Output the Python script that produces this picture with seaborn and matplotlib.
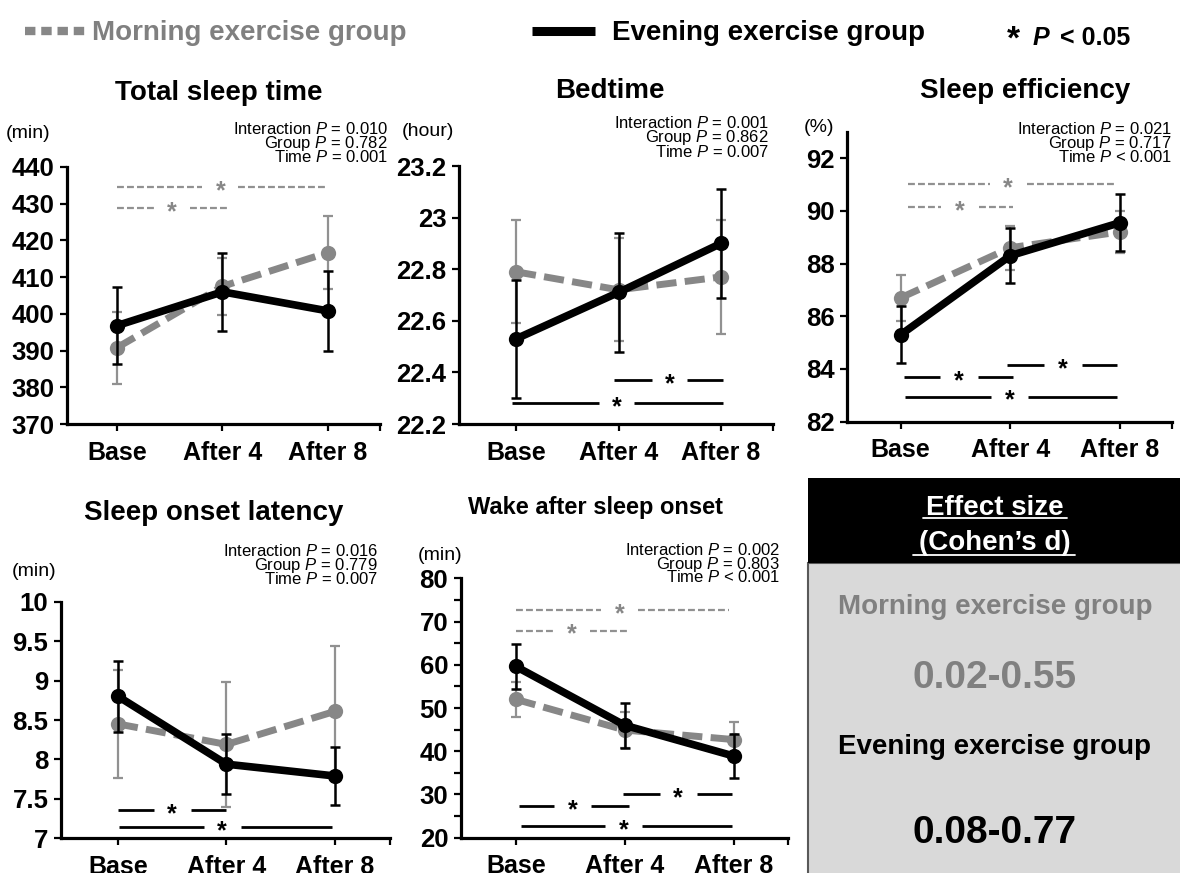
import numpy as np
import matplotlib
matplotlib.use("Agg")
import matplotlib.pyplot as plt
import seaborn as sns
from matplotlib.lines import Line2D
from matplotlib.patches import Rectangle

# ---------------- data ----------------
time_labels = ["Base", "After 4", "After 8"]

tst_morning = [390.8, 407.5, 416.7]
tst_morning_se = [9.8, 7.8, 9.9]
tst_evening = [396.8, 406.0, 400.8]
tst_evening_se = [10.4, 10.7, 10.9]

bed_morning = [22.79, 22.72, 22.77]
bed_morning_se = [0.20, 0.20, 0.22]
bed_evening = [22.53, 22.71, 22.90]
bed_evening_se = [0.23, 0.23, 0.21]

eff_morning = [86.7, 88.6, 89.2]
eff_morning_se = [0.87, 0.83, 0.80]
eff_evening = [85.3, 88.3, 89.55]
eff_evening_se = [1.07, 1.04, 1.09]

sol_morning = [8.45, 8.19, 8.61]
sol_morning_se = [0.69, 0.79, 0.83]
sol_evening = [8.80, 7.94, 7.79]
sol_evening_se = [0.45, 0.38, 0.37]

waso_morning = [52.0, 44.9, 42.7]
waso_morning_se = [4.0, 4.2, 4.1]
waso_evening = [59.6, 46.0, 38.9]
waso_evening_se = [5.1, 5.2, 5.2]

titles = ["Total sleep time", "Bedtime", "Sleep efficiency",
          "Sleep onset latency", "Wake after sleep onset"]
units = ["(min)", "(hour)", "(%)", "(min)", "(min)"]
p_interaction = ["0.010", "0.001", "0.021", "0.016", "0.002"]
p_group = ["0.782", "0.862", "0.717", "0.779", "0.803"]
p_time = ["= 0.001", "= 0.007", "< 0.001", "= 0.007", "< 0.001"]

# significance bars: (y, x_start, x_end, x_star, group)
sig_tst = [(434.5, 0.0, 2.0, 0.98, "m"), (428.8, 0.0, 1.04, 0.52, "m")]
sig_bed = [(22.37, 0.96, 2.02, 1.50, "e"), (22.28, -0.04, 2.02, 0.98, "e")]
sig_eff = [(91.0, 0.07, 1.97, 0.98, "m"), (90.14, 0.07, 1.02, 0.54, "m"),
           (84.15, 0.97, 1.97, 1.48, "e"), (83.7, 0.03, 1.02, 0.53, "e"),
           (82.95, 0.04, 1.97, 0.99, "e")]
sig_sol = [(7.36, 0.0, 1.0, 0.50, "e"), (7.14, 0.01, 1.97, 0.96, "e")]
sig_waso = [(72.7, 0.0, 1.96, 0.95, "m"), (67.9, 0.0, 1.02, 0.51, "m"),
            (30.0, 0.98, 1.99, 1.49, "e"), (27.4, 0.03, 1.04, 0.52, "e"),
            (22.7, 0.05, 1.99, 0.99, "e")]

effect_morning = "0.02-0.55"
effect_evening = "0.08-0.77"

# ---------------- style ----------------
sns.set_style("white")
plt.rcParams["font.family"] = ["Liberation Sans", "DejaVu Sans"]
plt.rcParams["mathtext.fontset"] = "custom"
plt.rcParams["mathtext.rm"] = "Liberation Sans"
plt.rcParams["mathtext.it"] = "Liberation Sans:italic"
plt.rcParams["text.color"] = "black"

GRAY = "#878787"
GRAY_ERR = "#919191"
W, H = 1180, 873

fig = plt.figure(figsize=(W / 100, H / 100), dpi=100)

ov = fig.add_axes([0, 0, 1, 1], zorder=-1)
ov.set_xlim(0, W)
ov.set_ylim(H, 0)
ov.axis("off")

panels = [
    dict(box=(67, 380, 167, 424), xlim=(-0.474, 2.493), ylim=(370, 440),
         yticks=np.arange(370, 441, 10), minor=None,
         m=tst_morning, mse=tst_morning_se, e=tst_evening, ese=tst_evening_se, sig=sig_tst,
         title_xy=(219, 100), tsize=20, unit_xy=(28, 133), p_x=388, p_y=(134, 148, 162)),
    dict(box=(459, 773, 166, 424), xlim=(-0.556, 2.507), ylim=(22.2, 23.2),
         yticks=np.round(np.arange(22.2, 23.21, 0.2), 1), minor=None,
         m=bed_morning, mse=bed_morning_se, e=bed_evening, ese=bed_evening_se, sig=sig_bed,
         title_xy=(610, 98), tsize=20, unit_xy=(428, 131), p_x=769, p_y=(128, 142, 157)),
    dict(box=(847, 1172, 131.7, 421.7), xlim=(-0.49, 2.473), ylim=(82, 93),
         yticks=np.arange(82, 93, 2), minor=None,
         m=eff_morning, mse=eff_morning_se, e=eff_evening, ese=eff_evening_se, sig=sig_eff,
         title_xy=(1025, 98), tsize=20, unit_xy=(819, 128), p_x=1172, p_y=(134, 148, 162)),
    dict(box=(61, 390, 601.7, 838.3), xlim=(-0.525, 2.507), ylim=(7, 10),
         yticks=np.arange(7, 10.01, 0.5), minor=None,
         m=sol_morning, mse=sol_morning_se, e=sol_evening, ese=sol_evening_se, sig=sig_sol,
         title_xy=(214, 520), tsize=20, unit_xy=(34, 572), p_x=378, p_y=(556, 570, 584)),
    dict(box=(460.7, 788, 578.3, 837.7), xlim=(-0.507, 2.50), ylim=(20, 80),
         yticks=np.arange(20, 81, 10), minor=np.arange(25, 80, 10),
         m=waso_morning, mse=waso_morning_se, e=waso_evening, ese=waso_evening_se, sig=sig_waso,
         title_xy=(595, 514), tsize=17, unit_xy=(440, 556), p_x=780, p_y=(555, 569, 582)),
]

x = np.arange(len(time_labels))

for i, p in enumerate(panels):
    l, r, t, b = p["box"]
    ax = fig.add_axes([l / W, 1 - b / H, (r - l) / W, (b - t) / H])
    ax.patch.set_alpha(0)

    # morning (gray dashed)
    ax.errorbar(x, p["m"], yerr=p["mse"], fmt="none", ecolor=GRAY_ERR,
                elinewidth=1.6, capsize=3.6, capthick=1.6, zorder=2)
    sns.lineplot(x=x, y=p["m"], color=GRAY, lw=5, marker="o", ms=11,
                 mec=GRAY, mew=0, ax=ax, zorder=3, errorbar=None)
    ax.lines[-1].set_dashes((2.9, 1.2))
    # evening (black solid)
    ax.errorbar(x, p["e"], yerr=p["ese"], fmt="none", ecolor="black",
                elinewidth=1.8, capsize=3.6, capthick=1.8, zorder=4)
    sns.lineplot(x=x, y=p["e"], color="black", lw=5.5, marker="o", ms=11,
                 mec="black", mew=0, ax=ax, zorder=5, errorbar=None)

    # significance bars
    gap = 0.17
    for (yy, x0, x1, xs, g) in p["sig"]:
        if g == "m":
            kw = dict(color=GRAY_ERR, lw=1.6, dashes=(3.1, 1.4))
            col = GRAY
        else:
            kw = dict(color="black", lw=2.0, solid_capstyle="butt")
            col = "black"
        ax.plot([x0, xs - gap], [yy, yy], zorder=1, **kw)
        ax.plot([xs + gap, x1], [yy, yy], zorder=1, **kw)
        ax.annotate("*", xy=(xs, yy), xytext=(0, -8), textcoords="offset points",
                    ha="center", va="baseline", fontsize=18, fontweight="bold",
                    color=col, zorder=6)

    ax.set_xlim(*p["xlim"])
    ax.set_ylim(*p["ylim"])
    ax.set_xticks(x)
    ax.set_xticklabels(time_labels, fontsize=18, fontweight="bold", color="black")
    ax.set_xticks([p["xlim"][1]], minor=True)
    ax.set_yticks(p["yticks"])
    ax.set_yticklabels([f"{v:g}" for v in p["yticks"]], fontsize=18.5,
                       fontweight="bold", color="black")
    if p["minor"] is not None:
        ax.set_yticks(p["minor"], minor=True)
    ax.tick_params(which="both", direction="out", length=5, width=1.6,
                   color="black", bottom=True, left=True)
    ax.tick_params(axis="x", which="major", pad=7)
    ax.tick_params(axis="y", which="major", pad=4)
    sns.despine(ax=ax)
    for s in ["left", "bottom"]:
        ax.spines[s].set_linewidth(2.3)
        ax.spines[s].set_color("black")

    # texts around panel (overlay, pixel coordinates)
    ov.text(*p["title_xy"], titles[i], ha="center", va="baseline",
            fontsize=p["tsize"], fontweight="bold")
    ov.text(*p["unit_xy"], units[i], ha="center", va="center", fontsize=14)
    ov.text(p["p_x"], p["p_y"][0], f"Interaction $P$ = {p_interaction[i]}",
            ha="right", va="baseline", fontsize=12)
    ov.text(p["p_x"], p["p_y"][1], f"Group $P$ = {p_group[i]}",
            ha="right", va="baseline", fontsize=12)
    ov.text(p["p_x"], p["p_y"][2], f"Time $P$ {p_time[i]}",
            ha="right", va="baseline", fontsize=12)

# ---------------- top legend ----------------
ov.add_line(Line2D([25, 88], [31, 31], color=GRAY, lw=6, dashes=(1.25, 0.7)))
ov.text(92, 40, "Morning exercise group", color="#808080", fontsize=20,
        fontweight="bold", ha="left", va="baseline")
ov.add_line(Line2D([532, 595], [31, 31], color="black", lw=6.5, solid_capstyle="butt"))
ov.text(612, 40, "Evening exercise group", color="black", fontsize=20,
        fontweight="bold", ha="left", va="baseline")
ov.text(1013, 49, "*", fontsize=24, fontweight="bold", ha="center", va="baseline")
ov.text(1033, 45, "P", fontsize=18, fontweight="bold", fontstyle="italic",
        ha="left", va="baseline")
ov.text(1060, 45, "< 0.05", fontsize=18, fontweight="bold", ha="left", va="baseline")

# ---------------- effect size box ----------------
ov.add_patch(Rectangle((808, 563), W - 808 + 5, H - 563 + 5, facecolor="#d9d9d9",
                       edgecolor="#595959", lw=1.5, zorder=1))
ov.add_patch(Rectangle((808, 478), W - 808 + 5, 85, facecolor="black",
                       edgecolor="none", zorder=2))
ov.text(995, 515, "Effect size", color="white", fontsize=20, fontweight="bold",
        ha="center", va="baseline", zorder=3)
ov.add_line(Line2D([923, 1067], [518, 518], color="white", lw=1.3, zorder=3))
ov.text(995, 550, "(Cohen\u2019s d)", color="white", fontsize=20, fontweight="bold",
        ha="center", va="baseline", zorder=3)
ov.add_line(Line2D([913, 1075], [555, 555], color="white", lw=1.3, zorder=3))
ov.text(995, 614, "Morning exercise group", color="#808080", fontsize=20,
        fontweight="bold", ha="center", va="baseline", zorder=3)
ov.text(995, 688, effect_morning, color="#808080", fontsize=28,
        fontweight="bold", ha="center", va="baseline", zorder=3)
ov.text(995, 754, "Evening exercise group", color="black", fontsize=20,
        fontweight="bold", ha="center", va="baseline", zorder=3)
ov.text(995, 843, effect_evening, color="black", fontsize=28,
        fontweight="bold", ha="center", va="baseline", zorder=3)

fig.savefig("out.png", dpi=100)
